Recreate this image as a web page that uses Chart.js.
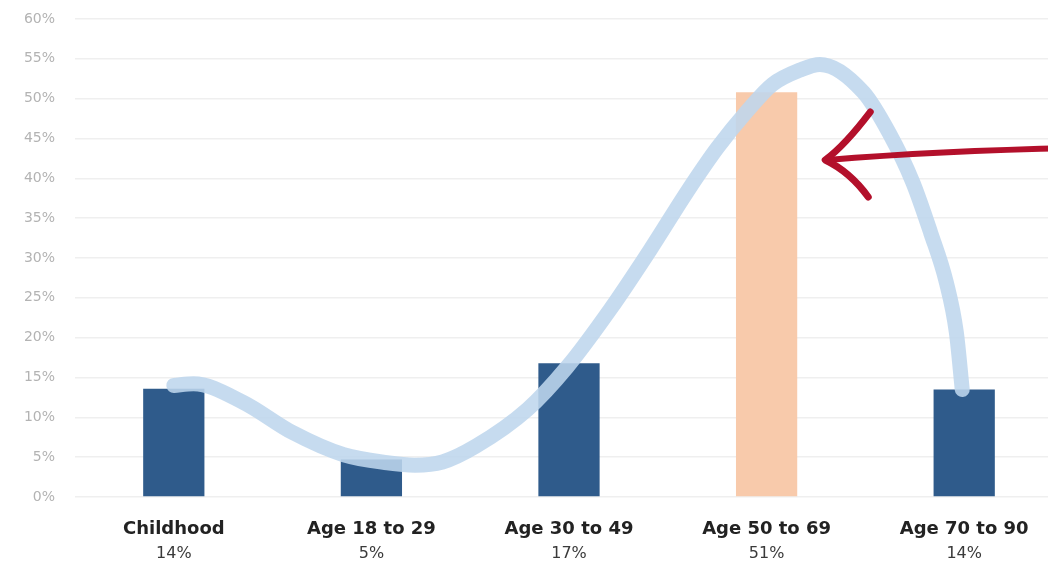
<!DOCTYPE html>
<html>
<head>
<meta charset="utf-8">
<script src="https://cdn.jsdelivr.net/npm/chart.js@4.4.1/dist/chart.umd.min.js"></script>
<style>
  html, body { margin: 0; padding: 0; background: #fff; overflow: hidden; }
  #wrap { width: 1075px; height: 566px; }
</style>
</head>
<body>
<div id="wrap"><canvas id="ageChart"></canvas></div>
<script>
// Data
const categories = ["Childhood", "Age 18 to 29", "Age 30 to 49", "Age 50 to 69", "Age 70 to 90"];
const shares = [13.6, 4.7, 16.8, 50.8, 13.5];
const shareLabels = ["14%", "5%", "17%", "51%", "14%"];
const yTicks = [0, 5, 10, 15, 20, 25, 30, 35, 40, 45, 50, 55, 60];

// hand drawn trend curve, x in category index units
const curveX = [0, 0.10, 0.35, 0.60, 0.86, 1.08, 1.22, 1.36, 1.53, 1.79, 1.99, 2.21, 2.41, 2.60, 2.75, 2.90, 3.03, 3.17, 3.27, 3.49, 3.62, 3.74, 3.83, 3.91, 3.96, 3.99];
const curveY = [14.0, 14.2, 11.9, 8.1, 5.3, 4.3, 4.0, 4.4, 6.4, 11.0, 16.3, 23.6, 31.0, 38.4, 43.8, 48.4, 51.8, 53.6, 54.3, 50.8, 45.7, 39.5, 33.2, 26.9, 20.7, 13.5];

const highlightIndex = 3;
const barColors = categories.map((c, i) => i === highlightIndex ? "#f8caab" : "#2f5b8b");

// Arrow pointing at the highlighted bar
const arrowPlugin = {
    id: "arrow",
    afterDatasetsDraw(chart) {
        const ctx = chart.ctx;
        const bar = chart.getDatasetMeta(1).data[highlightIndex];
        const tipX = bar.x + bar.width / 2 + 28;
        const tipY = chart.scales.y.getPixelForValue(42.3);
        ctx.save();
        ctx.strokeStyle = "#b3102b";
        ctx.lineCap = "round";
        ctx.lineJoin = "round";
        // shaft
        ctx.lineWidth = 6;
        ctx.beginPath();
        ctx.moveTo(tipX + 2, tipY);
        ctx.quadraticCurveTo(tipX + 110, tipY - 9, chart.width, tipY - 12);
        ctx.stroke();
        // head
        ctx.lineWidth = 7;
        ctx.beginPath();
        ctx.moveTo(tipX + 45, tipY - 48);
        ctx.quadraticCurveTo(tipX + 20, tipY - 15, tipX, tipY);
        ctx.quadraticCurveTo(tipX + 25, tipY + 12, tipX + 43, tipY + 37);
        ctx.stroke();
        ctx.restore();
    }
};

new Chart(document.getElementById("ageChart"), {
    data: {
        labels: categories,
        datasets: [{
            type: "line",
            data: curveX.map((x, i) => ({ x: x, y: curveY[i] })),
            xAxisID: "xl",
            borderColor: "rgba(190, 214, 237, 0.88)",
            borderWidth: 15,
            borderCapStyle: "round",
            borderJoinStyle: "round",
            cubicInterpolationMode: "monotone",
            pointRadius: 0,
            order: 0,
            clip: false
        }, {
            type: "bar",
            data: shares,
            xAxisID: "x",
            backgroundColor: barColors,
            barPercentage: 0.31,
            categoryPercentage: 1,
            grouped: false,
            order: 1
        }]
    },
    options: {
        responsive: true,
        maintainAspectRatio: false,
        animation: false,
        layout: { autoPadding: false, padding: { top: 19, right: 12, bottom: 0, left: 0 } },
        plugins: {
            legend: { display: false },
            tooltip: { enabled: false }
        },
        scales: {
            y: {
                min: 0,
                max: 60,
                afterBuildTicks: s => { s.ticks = yTicks.map(v => ({ value: v })); },
                ticks: {
                    padding: 20,
                    color: "#b3b3b3",
                    font: { family: "DejaVu Sans", size: 14 },
                    callback: v => v + "%"
                },
                grid: { color: "#efefef", lineWidth: 1.5, drawTicks: false },
                border: { display: false },
                afterFit: s => { s.width = 75; s.paddingTop = 0; s.paddingBottom = 0; }
            },
            x: {
                type: "category",
                position: "bottom",
                weight: 0,
                offset: true,
                grid: { display: false, drawTicks: false },
                border: { display: false },
                ticks: {
                    padding: 22,
                    color: "#222",
                    maxRotation: 0,
                    font: { family: "DejaVu Sans", size: 18, weight: "bold" }
                },
                afterFit: s => { s.height = 44; }
            },
            x2: {
                type: "category",
                position: "bottom",
                weight: 1,
                offset: true,
                labels: shareLabels,
                grid: { display: false, drawTicks: false },
                border: { display: false },
                ticks: {
                    padding: 3,
                    color: "#3a3a3a",
                    maxRotation: 0,
                    font: { family: "DejaVu Sans", size: 16 }
                },
                afterFit: s => { s.height = 25; }
            },
            xl: {
                type: "linear",
                display: false,
                min: -0.5,
                max: 4.5
            }
        }
    },
    plugins: [arrowPlugin]
});
</script>
</body>
</html>
